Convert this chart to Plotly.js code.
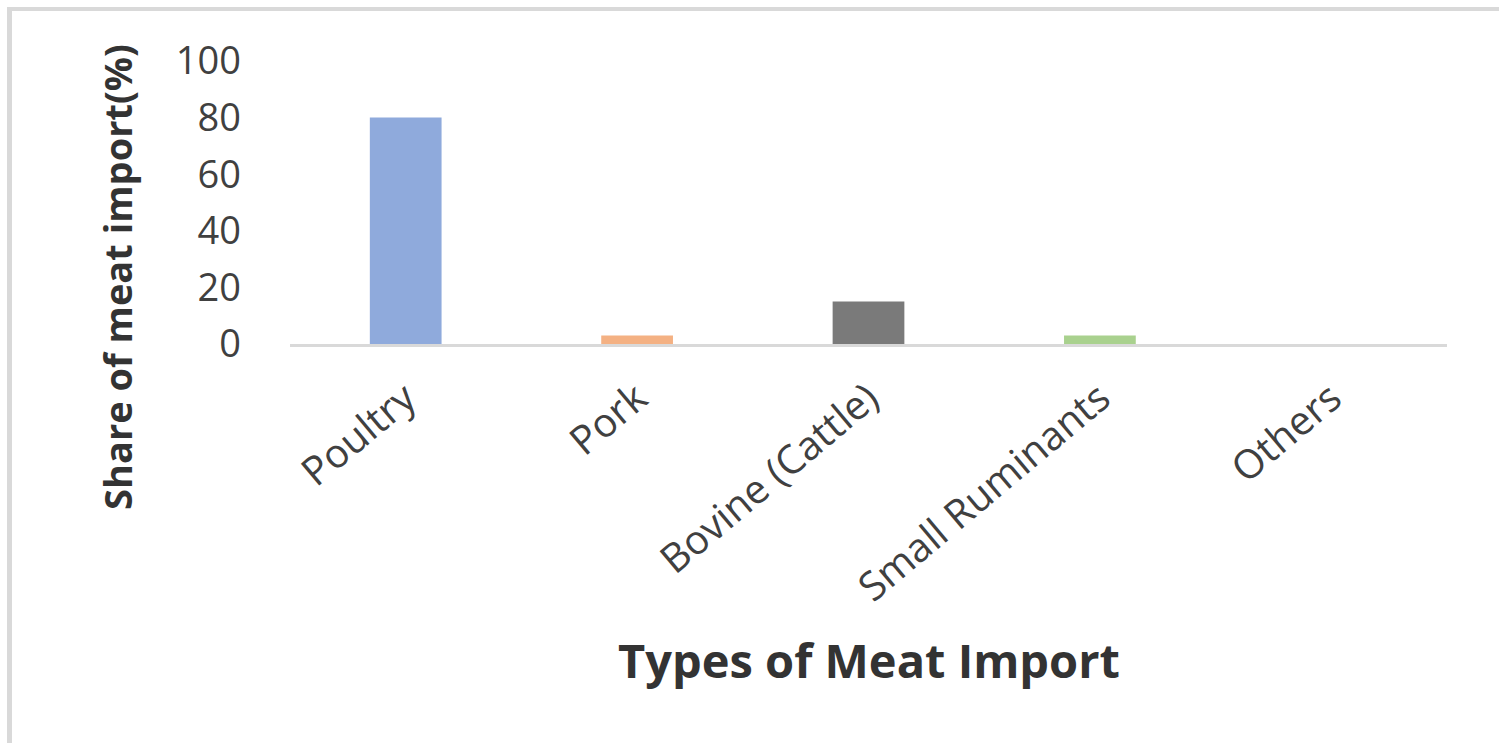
<!DOCTYPE html>
<html>
<head>
<meta charset="utf-8">
<script src="https://cdn.plot.ly/plotly-3.0.1.min.js"></script>
<style>
html,body{margin:0;padding:0;background:#fff;}
#wrap{position:relative;width:1499px;height:743px;overflow:hidden;}
#chart{position:absolute;left:0;top:0;width:1499px;height:743px;}
#frame{position:absolute;left:7px;top:7px;width:1500px;height:800px;border-left:5px solid #d9d9d9;border-top:4px solid #d9d9d9;pointer-events:none;}
</style>
</head>
<body>
<div id="wrap">
<div id="chart"></div>
<div id="frame"></div>
</div>
<script>
const categories = ["Poultry", "Pork", "Bovine (Cattle)", "Small Ruminants", "Others"];
const shares = [80, 3, 15, 3, 0];
const barColors = ["#8FAADC", "#F4B183", "#7A7A7A", "#A9D18E", "#FFD966"];
const yTickValues = [0, 20, 40, 60, 80, 100];
const xTitle = "Types of Meat Import";
const yTitle = "Share of meat import(%)";

const trace = {
  type: "bar",
  x: categories,
  y: shares,
  width: 0.31,
  marker: {color: barColors},
  hoverinfo: "x+y"
};

const layout = {
  width: 1499,
  height: 743,
  margin: {l: 290, r: 52, t: 61, b: 399},
  paper_bgcolor: "#ffffff",
  plot_bgcolor: "#ffffff",
  showlegend: false,
  font: {family: "Open Sans, sans-serif", color: "#595959"},
  xaxis: {
    type: "category",
    tickangle: -40,
    tickfont: {size: 40, color: "#404040"},
    ticklabelstandoff: 12,
    showline: true,
    linecolor: "#d9d9d9",
    linewidth: 3,
    ticks: "",
    showgrid: false,
    zeroline: false
  },
  yaxis: {
    range: [0, 100],
    tickvals: yTickValues,
    tickfont: {size: 38, color: "#404040"},
    showgrid: false,
    zeroline: false,
    showline: false,
    ticks: "",
    ticklabelstandoff: 48
  },
  annotations: [
    {
      text: xTitle, xref: "paper", yref: "paper", x: 0.5, y: -1.117,
      xanchor: "center", yanchor: "middle", showarrow: false,
      font: {size: 47, color: "#333333", family: "Open Sans, sans-serif", weight: "bold"}
    },
    {
      text: yTitle, xref: "paper", yref: "paper", x: -0.1495, y: 0.237,
      xanchor: "center", yanchor: "middle", showarrow: false, textangle: -90,
      font: {size: 38, color: "#333333", family: "Open Sans, sans-serif", weight: "bold"}
    }
  ]
};

Plotly.newPlot("chart", [trace], layout, {displayModeBar: false, staticPlot: true});
</script>
</body>
</html>
